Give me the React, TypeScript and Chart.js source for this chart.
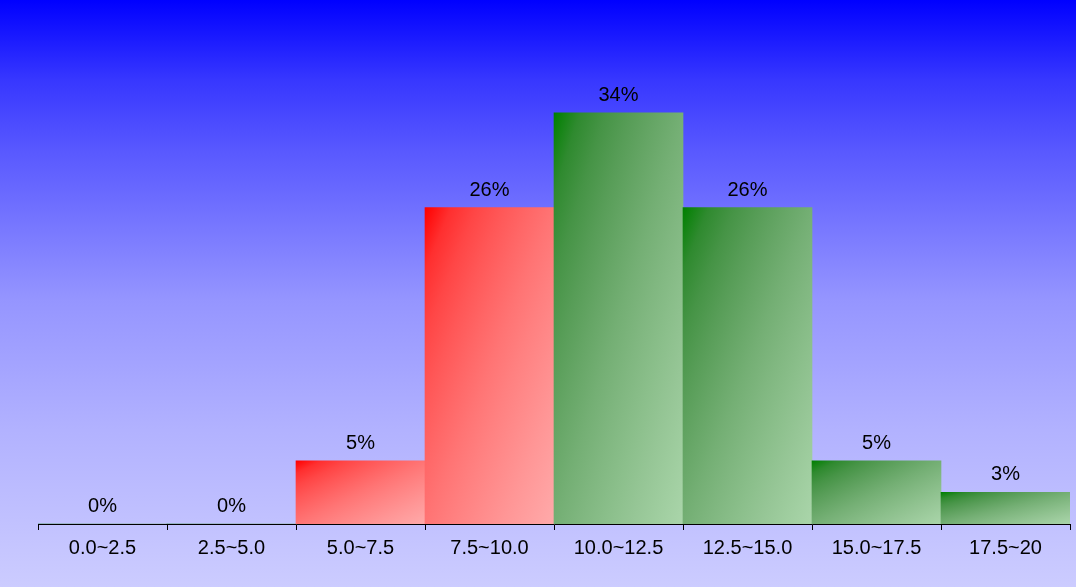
import React, { useEffect, useRef } from 'react';
import { Chart, registerables } from 'chart.js';

Chart.register(...registerables);

const labels = ['0.0~2.5', '2.5~5.0', '5.0~7.5', '7.5~10.0', '10.0~12.5', '12.5~15.0', '15.0~17.5', '17.5~20'];
// share of samples per bin, in percent
const shares = [0, 0, 5.26, 26.32, 34.21, 26.32, 5.26, 2.63];
// which bins are drawn red (the rest green)
const redBins = [false, false, true, true, false, false, false, false];

const FONT = "'Liberation Sans', Arial, sans-serif";

// background: blue at the top fading to pale lavender
const backgroundPlugin = {
  id: 'bgGradient',
  beforeDraw(chart: any) {
    const { ctx, width, height } = chart;
    const g = ctx.createLinearGradient(0, 0, 0, height);
    g.addColorStop(0, 'rgb(0,0,255)');
    g.addColorStop(0.136, 'rgb(55,55,255)');
    g.addColorStop(0.255, 'rgb(88,88,255)');
    g.addColorStop(0.51, 'rgb(149,149,255)');
    g.addColorStop(0.733, 'rgb(178,178,255)');
    g.addColorStop(1, 'rgb(204,204,255)');
    ctx.save();
    ctx.fillStyle = g;
    ctx.fillRect(0, 0, width, height);
    ctx.restore();
  },
};

// percent labels above every bar
const valueLabelPlugin = {
  id: 'valueLabels',
  afterDatasetsDraw(chart: any) {
    const { ctx } = chart;
    const meta = chart.getDatasetMeta(0);
    ctx.save();
    ctx.font = `20px ${FONT}`;
    ctx.fillStyle = '#000';
    ctx.textAlign = 'center';
    ctx.textBaseline = 'alphabetic';
    meta.data.forEach((bar: any, i: number) => {
      ctx.fillText(`${Math.round(shares[i])}%`, bar.x, bar.y - 12);
    });
    ctx.restore();
  },
};

// mix two colours with a gamma curve so the ramp lightens a bit early
const GAMMA = 1.8;
function mixGamma(a: number[], b: number[], t: number) {
  const c = a.map((v, k) => {
    const la = Math.pow(v / 255, GAMMA);
    const lb = Math.pow(b[k] / 255, GAMMA);
    return Math.round(Math.pow(la + (lb - la) * t, 1 / GAMMA) * 255);
  });
  return `rgb(${c[0]},${c[1]},${c[2]})`;
}

// css-like "to bottom right" gradient for one bar
function barGradient(context: any) {
  const i = context.dataIndex;
  const red = redBins[i];
  const from = red ? [255, 0, 0] : [0, 128, 0];
  const to = red ? [255, 170, 170] : [170, 213, 170];
  const flat = `rgb(${from.join(',')})`;
  const chart = context.chart;
  const xs = chart.scales.x;
  const ys = chart.scales.y;
  if (!xs || !ys || i === undefined) return flat;
  const w = xs.width / labels.length;
  const cx = xs.getPixelForValue(i);
  const top = ys.getPixelForValue(shares[i]);
  const bottom = ys.getPixelForValue(0);
  if (![w, cx, top, bottom].every(Number.isFinite) || w <= 0) return flat;
  const h = Math.max(bottom - top, 1);
  const cy = (top + bottom) / 2;
  const k = (w * h) / (w * w + h * h);
  const g = chart.ctx.createLinearGradient(cx - h * k, cy - w * k, cx + h * k, cy + w * k);
  for (let s = 0; s <= 10; s++) {
    g.addColorStop(s / 10, mixGamma(from, to, s / 10));
  }
  return g;
}

const App: React.FC = () => {
  const chartRef = useRef<HTMLCanvasElement>(null);
  const chartInstance = useRef<Chart | null>(null);

  useEffect(() => {
    if (!chartRef.current) return;
    const ctx = chartRef.current.getContext('2d');
    if (!ctx) return;
    if (chartInstance.current) chartInstance.current.destroy();

    chartInstance.current = new Chart(ctx, {
      type: 'bar',
      data: {
        labels,
        datasets: [
          {
            data: shares,
            backgroundColor: barGradient,
            borderWidth: 0,
            barPercentage: 1,
            categoryPercentage: 1,
          },
        ],
      },
      options: {
        responsive: false,
        animation: false,
        layout: { padding: { left: 38, right: 6, top: 0, bottom: 0 } },
        plugins: {
          legend: { display: false },
          tooltip: { enabled: false },
        },
        scales: {
          x: {
            grid: {
              display: true,
              drawOnChartArea: false,
              drawTicks: true,
              tickLength: 6,
              color: '#000',
              offset: true,
            },
            border: { display: true, color: '#000', width: 1 },
            ticks: {
              color: '#000',
              padding: 6,
              font: { family: FONT, size: 20 },
              maxRotation: 0,
              autoSkip: false,
            },
            afterFit: (scale: any) => {
              scale.height = 63;
            },
          },
          y: {
            display: false,
            min: 0,
            max: 43.6,
          },
        },
      },
      plugins: [backgroundPlugin, valueLabelPlugin],
    });

    return () => {
      if (chartInstance.current) {
        chartInstance.current.destroy();
        chartInstance.current = null;
      }
    };
  }, []);

  return (
    <div style={{ position: 'fixed', left: 0, top: 0, width: 1076, height: 587 }}>
      <canvas ref={chartRef} width={1076} height={587} style={{ display: 'block' }}></canvas>
    </div>
  );
};

export default App;
